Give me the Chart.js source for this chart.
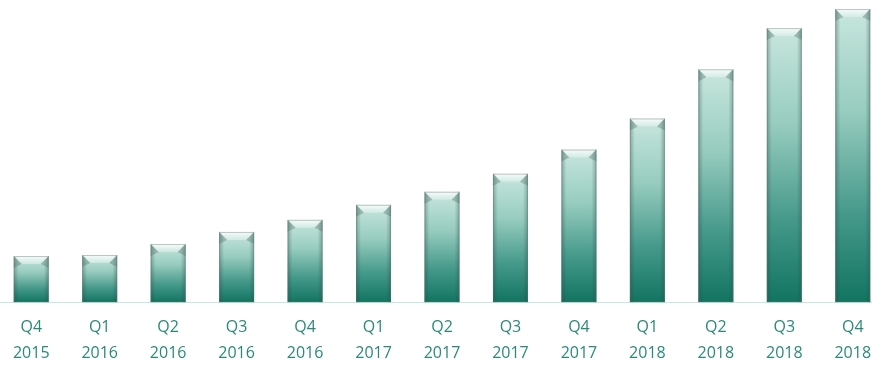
<!DOCTYPE html>
<html>
<head>
<meta charset="utf-8">
<script src="https://cdn.jsdelivr.net/npm/chart.js@4"></script>
<style>
  html, body { margin: 0; padding: 0; background: #ffffff; overflow: hidden; }
  #wrap { position: absolute; left: -3px; top: 0; width: 890px; height: 381px; }
</style>
</head>
<body>
<div id="wrap"><canvas id="c"></canvas></div>
<script>
const quarters = ["Q4","Q1","Q2","Q3","Q4","Q1","Q2","Q3","Q4","Q1","Q2","Q3","Q4"];
const years = ["2015","2016","2016","2016","2016","2017","2017","2017","2017","2018","2018","2018","2018"];
const values = [46, 47, 58, 70, 82, 97, 110, 128, 152, 183, 232, 273, 292];
const yMax = 301;

const labels = quarters.map((q, i) => [q, years[i]]);

const bevelPlugin = {
  id: 'bevel',
  afterDatasetsDraw(chart) {
    const c = chart.ctx;
    const meta = chart.getDatasetMeta(0);
    meta.data.forEach(bar => {
      const { x, y, base, width } = bar.getProps(['x', 'y', 'base', 'width'], true);
      const l = x - width / 2, r = x + width / 2;
      const b = 8;
      c.save();
      let g = c.createLinearGradient(l, 0, l + 5, 0);
      g.addColorStop(0, 'rgba(40,70,65,0.35)');
      g.addColorStop(1, 'rgba(40,70,65,0)');
      c.fillStyle = g;
      c.fillRect(l, y, 5, base - y);
      g = c.createLinearGradient(r - 5, 0, r, 0);
      g.addColorStop(0, 'rgba(40,70,65,0)');
      g.addColorStop(1, 'rgba(40,70,65,0.35)');
      c.fillStyle = g;
      c.fillRect(r - 5, y, 5, base - y);
      c.beginPath();
      c.moveTo(l, y);
      c.lineTo(r, y);
      c.lineTo(r - b, y + b);
      c.lineTo(l + b, y + b);
      c.closePath();
      g = c.createLinearGradient(0, y, 0, y + b);
      g.addColorStop(0, 'rgba(255,255,255,0.9)');
      g.addColorStop(1, 'rgba(225,242,237,0.55)');
      c.fillStyle = g;
      c.fill();
      c.beginPath();
      c.moveTo(l, y); c.lineTo(l + b, y + b); c.lineTo(l, y + b + 4); c.closePath();
      c.fillStyle = 'rgba(60,90,85,0.3)';
      c.fill();
      c.beginPath();
      c.moveTo(r, y); c.lineTo(r - b, y + b); c.lineTo(r, y + b + 4); c.closePath();
      c.fill();
      c.strokeStyle = 'rgba(90,120,115,0.4)';
      c.lineWidth = 1;
      c.strokeRect(l + 0.5, y + 0.5, width - 1, base - y - 1);
      c.restore();
    });
  }
};

new Chart(document.getElementById('c'), {
  type: 'bar',
  data: {
    labels: labels,
    datasets: [{
      data: values,
      backgroundColor(ctx) {
        const chart = ctx.chart;
        const ys = chart.scales && chart.scales.y;
        if (!ys || !chart.chartArea) return '#5aa898';
        const top = ys.getPixelForValue(ctx.raw);
        const bot = ys.getPixelForValue(0);
        if (!isFinite(top) || !isFinite(bot) || top === bot) return '#5aa898';
        const g = chart.ctx.createLinearGradient(0, top, 0, bot);
        g.addColorStop(0, '#c8e6de');
        g.addColorStop(0.35, '#97ccbf');
        g.addColorStop(0.7, '#45998a');
        g.addColorStop(1, '#127461');
        return g;
      },
      borderWidth: 0,
      barPercentage: 0.72,
      categoryPercentage: 0.71
    }]
  },
  options: {
    responsive: true,
    maintainAspectRatio: false,
    animation: false,
    layout: { padding: { top: 0, bottom: 2, left: 0, right: 0 } },
    plugins: { legend: { display: false }, tooltip: { enabled: false } },
    scales: {
      x: {
        grid: { display: false, drawTicks: false },
        border: { display: true, color: '#c5e8e0', width: 1 },
        ticks: {
          color: '#2a8a78',
          font: { family: 'Open Sans', size: 16, lineHeight: 1.65 },
          padding: 12,
          maxRotation: 0,
          autoSkip: false
        }
      },
      y: {
        display: false,
        min: 0,
        max: yMax
      }
    }
  },
  plugins: [bevelPlugin]
});
</script>
</body>
</html>
